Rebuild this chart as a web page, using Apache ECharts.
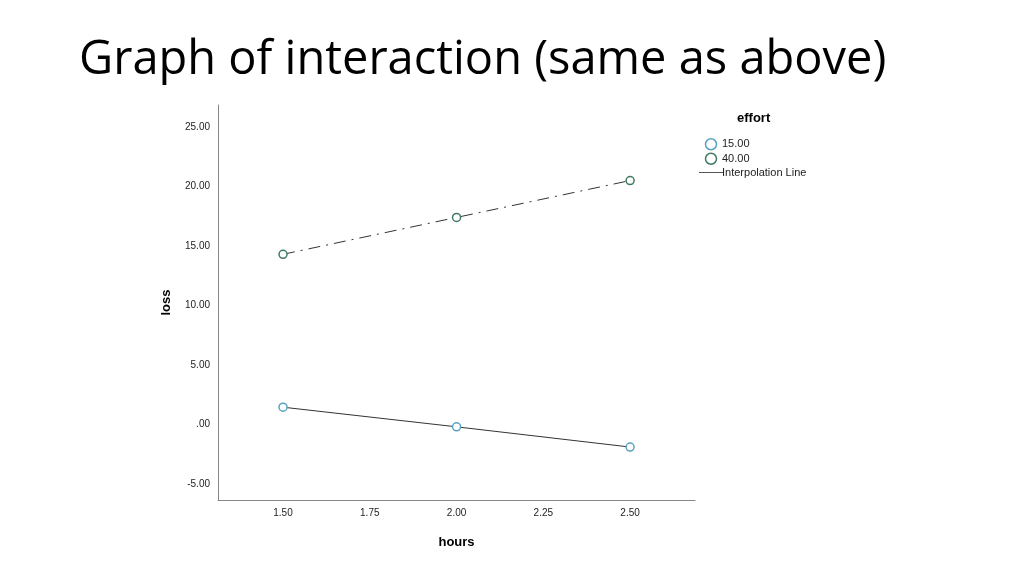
<!DOCTYPE html>
<html><head><meta charset="utf-8">
<script src="https://cdn.jsdelivr.net/npm/echarts@6/dist/echarts.min.js"></script>
<style>html,body{margin:0;background:#fff}#c{width:1024px;height:575px}</style>
</head><body><div id="c"></div>
<script>
const hours = [1.5, 2.0, 2.5];
const effort15 = [1.45, -0.2, -1.9];
const effort40 = [14.3, 17.4, 20.5];
const yTicks = [-5, 0, 5, 10, 15, 20, 25];
const xTicks = [1.5, 1.75, 2.0, 2.25, 2.5];

const chart = echarts.init(document.getElementById('c'));
const fmt = v => { let s = Number(v).toFixed(2); if (s.startsWith('0.')) s = s.slice(1); return s; };
chart.setOption({
  animation: false,
  title: { text: 'Graph of interaction (same as above)', left: 74, top: 32,
    textStyle: { fontFamily: 'Open Sans', fontSize: 47, fontWeight: 'normal', color: '#000' } },
  grid: { left: 218, right: 329, top: 105, bottom: 75 },
  xAxis: { type: 'value', min: 1.3127, max: 2.687,
    name: 'hours', nameLocation: 'middle', nameGap: 36,
    nameTextStyle: { fontFamily: 'Arial', fontWeight: 'bold', fontSize: 13, color: '#000' },
    axisLine: { onZero: false, lineStyle: { color: '#888' } }, axisTick: { show: false }, splitLine: { show: false },
    axisLabel: { customValues: xTicks, formatter: fmt, fontSize: 10, color: '#222', fontFamily: 'Arial', margin: 8 } },
  yAxis: { type: 'value', min: -6.35, max: 26.85,
    name: 'loss', nameLocation: 'middle', nameGap: 45, nameRotate: 90,
    nameTextStyle: { fontFamily: 'Arial', fontWeight: 'bold', fontSize: 13, color: '#000' },
    axisLine: { show: true, onZero: false, lineStyle: { color: '#888' } }, axisTick: { show: false }, splitLine: { show: false },
    axisLabel: { customValues: yTicks, formatter: fmt, fontSize: 10, color: '#222', fontFamily: 'Arial', margin: 8 } },
  legend: { orient: 'vertical', left: 694, top: 133, itemGap: 2, itemWidth: 24, itemHeight: 11,
    textStyle: { fontFamily: 'Arial', fontSize: 11, color: '#222', padding: [0, 0, 0, -6] },
    data: [
      { name: '15.00', icon: 'circle', itemStyle: { color: '#fff', borderColor: '#5aa3c0', borderWidth: 1.5 } },
      { name: '40.00', icon: 'circle', itemStyle: { color: '#fff', borderColor: '#3f7a62', borderWidth: 1.5 } },
      { name: 'Interpolation Line', icon: 'path://M0,5L24,5L24,6L0,6Z', itemStyle: { color: '#555' } }
    ] },
  graphic: [{ type: 'text', left: 737, top: 112,
    style: { text: 'effort', font: 'bold 13px Arial', fill: '#000' } }],
  series: [
    { name: '15.00', type: 'line', data: hours.map((h, i) => [h, effort15[i]]),
      symbol: 'circle', symbolSize: 8, lineStyle: { color: '#333', width: 1 },
      itemStyle: { color: '#fff', borderColor: '#5aa3c0', borderWidth: 1.5 } },
    { name: '40.00', type: 'line', data: hours.map((h, i) => [h, effort40[i]]),
      symbol: 'circle', symbolSize: 8, lineStyle: { color: '#333', width: 1, type: [12, 6, 2, 6] },
      itemStyle: { color: '#fff', borderColor: '#3f7a62', borderWidth: 1.5 } },
    { name: 'Interpolation Line', type: 'line', data: [] }
  ]
});
</script></body></html>
